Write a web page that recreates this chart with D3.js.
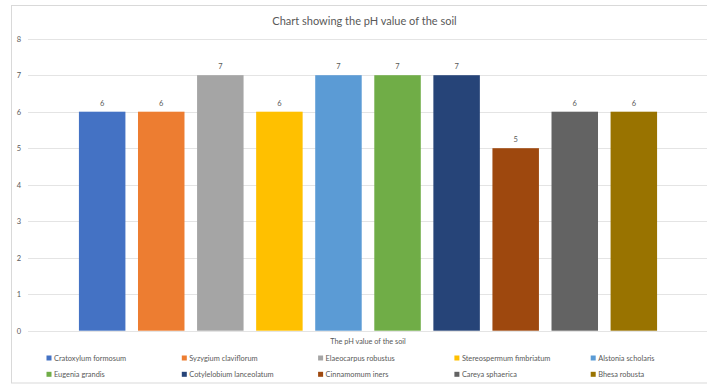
<!DOCTYPE html>
<html><head><meta charset="utf-8">
<script src="https://cdn.jsdelivr.net/npm/d3@7"></script>
<style>html,body{margin:0;padding:0;background:#fff;overflow:hidden}</style>
</head><body>
<svg id="c" width="707" height="385"></svg>
<script>
const species = ["Cratoxylum formosum","Syzygium claviflorum","Elaeocarpus robustus","Stereospermum fimbriatum","Alstonia scholaris","Eugenia grandis","Cotylelobium lanceolatum","Cinnamomum iners","Careya sphaerica","Bhesa robusta"];
const phValues = [6,6,7,6,7,7,7,5,6,6];
const colors = ["#4472C4","#ED7D31","#A5A5A5","#FFC000","#5B9BD5","#70AD47","#264478","#9E480E","#636363","#997300"];
const yTicks = [0,1,2,3,4,5,6,7,8];
const title = "Chart showing the pH value of the soil";
const axisTitle = "The pH value of the soil";

const svg = d3.select("#c");
const font = "Lato, 'Open Sans', sans-serif";
const grey = "#595959";

svg.append("rect").attr("x",11.5).attr("y",5.5).attr("width",707).attr("height",377.5)
  .attr("fill","none").attr("stroke","#d9d9d9");

const plotL = 28, plotR = 708;
const y = d3.scaleLinear().domain([0,8]).range([330.7,38.7]);
const x = d3.scaleBand().domain(species).range([plotL, plotR]).paddingInner(0.213).paddingOuter(0.862);

svg.append("g").selectAll("line").data(yTicks).join("line")
  .attr("x1",plotL).attr("x2",plotR)
  .attr("y1",d=>Math.round(y(d))+0.5).attr("y2",d=>Math.round(y(d))+0.5)
  .attr("stroke","#e4e4e4").attr("stroke-width",1);

svg.append("g").selectAll("text").data(yTicks).join("text")
  .attr("x",19).attr("y",d=>y(d)+3)
  .attr("text-anchor","middle").attr("font-family",font).attr("font-size",7.5)
  .attr("fill",grey).text(d=>d);

svg.append("g").selectAll("rect").data(species).join("rect")
  .attr("x",d=>x(d)).attr("width",x.bandwidth())
  .attr("y",(d,i)=>y(phValues[i])).attr("height",(d,i)=>y(0)-y(phValues[i]))
  .attr("fill",(d,i)=>colors[i]);

svg.append("g").selectAll("text").data(species).join("text")
  .attr("x",d=>x(d)+x.bandwidth()/2).attr("y",(d,i)=>y(phValues[i])-6)
  .attr("text-anchor","middle").attr("font-family",font).attr("font-size",7.5)
  .attr("fill",grey).text((d,i)=>phValues[i]);

svg.append("text").attr("x",364.5).attr("y",25).attr("text-anchor","middle")
  .attr("font-family",font).attr("font-size",11).attr("fill",grey).text(title);

svg.append("text").attr("x",(plotL+plotR)/2).attr("y",343.5).attr("text-anchor","middle")
  .attr("font-family",font).attr("font-size",7.3).attr("fill",grey).text(axisTitle);

const colX = [49,184.3,320.6,456.9,593.2];
const rowY = [358,374.3];
const lg = svg.append("g").selectAll("g").data(species).join("g")
  .attr("transform",(d,i)=>`translate(${colX[i%5]},${rowY[Math.floor(i/5)]})`);
lg.append("rect").attr("x",-2.5).attr("y",-2.5).attr("width",5).attr("height",5).attr("fill",(d,i)=>colors[i]);
lg.append("text").attr("x",5).attr("y",2.7).attr("font-family",font).attr("font-size",7.4)
  .attr("fill",grey).text(d=>d);
</script>
</body></html>
